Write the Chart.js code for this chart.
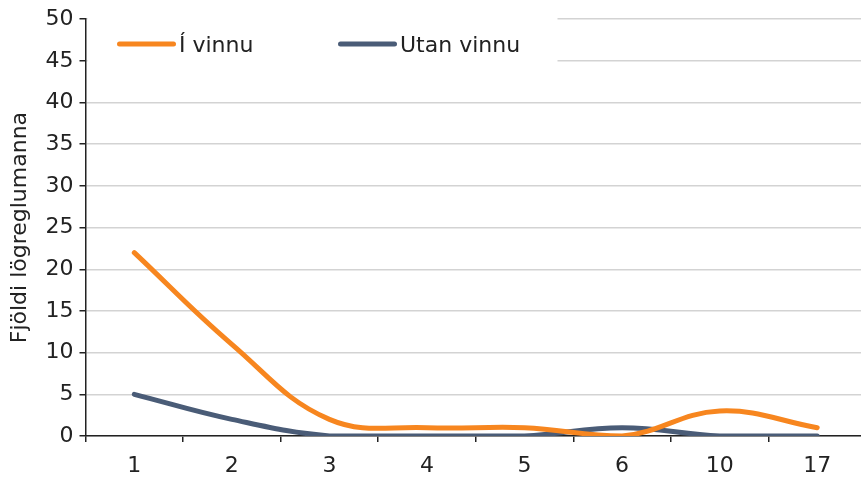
<!DOCTYPE html>
<html>
<head>
<meta charset="utf-8">
<script src="https://cdn.jsdelivr.net/npm/chart.js@4"></script>
<style>
  html, body { margin: 0; padding: 0; background: #fff; overflow: hidden; }
  #wrap { width: 866px; height: 478px; }
</style>
</head>
<body>
<div id="wrap"><canvas id="chart" width="866" height="478"></canvas></div>
<script>
var categories = ['1', '2', '3', '4', '5', '6', '10', '17'];
var iVinnu = [22, 11, 2, 1, 1, 0, 3, 1];
var utanVinnu = [5, 2, 0, 0, 0, 1, 0, 0];
var seriesNames = ['Í vinnu', 'Utan vinnu'];
var colors = ['#f7861f', '#4a5c77'];

var FONT = 'DejaVu Sans';
var FS = 22;

// legend sits inside the plot on a white patch
var legendBox = {
    id: 'legendBox',
    beforeDatasetsDraw: function (chart) {
        var c = chart.ctx, a = chart.chartArea;
        c.save();
        c.fillStyle = '#fff';
        c.fillRect(a.left + 2, 10, 470, 54);
        c.restore();
    },
    afterDraw: function (chart) {
        var c = chart.ctx;
        var items = [{ x: 117, name: seriesNames[0], color: colors[0] },
                     { x: 338, name: seriesNames[1], color: colors[1] }];
        c.save();
        c.font = FS + 'px "' + FONT + '"';
        c.textBaseline = 'middle';
        items.forEach(function (it) {
            c.strokeStyle = it.color;
            c.lineWidth = 5;
            c.lineCap = 'round';
            c.beginPath();
            c.moveTo(it.x + 2.5, 44);
            c.lineTo(it.x + 56.5, 44);
            c.stroke();
            c.fillStyle = '#222';
            c.fillText(it.name, it.x + 62, 46);
        });
        c.restore();
    }
};

new Chart(document.getElementById('chart'), {
    type: 'line',
    data: {
        labels: categories,
        datasets: [{
            label: seriesNames[0],
            data: iVinnu,
            borderColor: colors[0],
            borderWidth: 5,
            tension: 0.4,
            pointRadius: 0,
            borderCapStyle: 'round'
        }, {
            label: seriesNames[1],
            data: utanVinnu,
            borderColor: colors[1],
            borderWidth: 5,
            tension: 0.4,
            pointRadius: 0,
            borderCapStyle: 'round'
        }]
    },
    options: {
        responsive: false,
        animation: false,
        devicePixelRatio: 1,
        layout: { padding: { top: 17, right: 0, left: 0, bottom: 0 } },
        plugins: { legend: { display: false }, tooltip: { enabled: false } },
        scales: {
            x: {
                offset: true,
                grid: { offset: true, drawOnChartArea: false, tickColor: '#222', tickLength: 6, lineWidth: 1.5 },
                border: { color: '#222', width: 1.5 },
                ticks: { color: '#222', font: { family: FONT, size: FS }, padding: 11, maxRotation: 0 },
                afterFit: function (s) { s.height = 42; }
            },
            y: {
                min: 0,
                max: 50,
                ticks: { stepSize: 5, color: '#222', font: { family: FONT, size: FS }, padding: 6 },
                grid: { color: '#d3d3d3', lineWidth: 1.5, tickColor: '#222', tickLength: 6 },
                border: { color: '#222', width: 1.5 },
                title: {
                    display: true,
                    text: 'Fjöldi lögreglumanna',
                    color: '#222',
                    font: { family: FONT, size: FS },
                    padding: { top: 7, bottom: 0 }
                },
                afterFit: function (s) { s.width = 85.5; }
            }
        }
    },
    plugins: [legendBox]
});
</script>
</body>
</html>
